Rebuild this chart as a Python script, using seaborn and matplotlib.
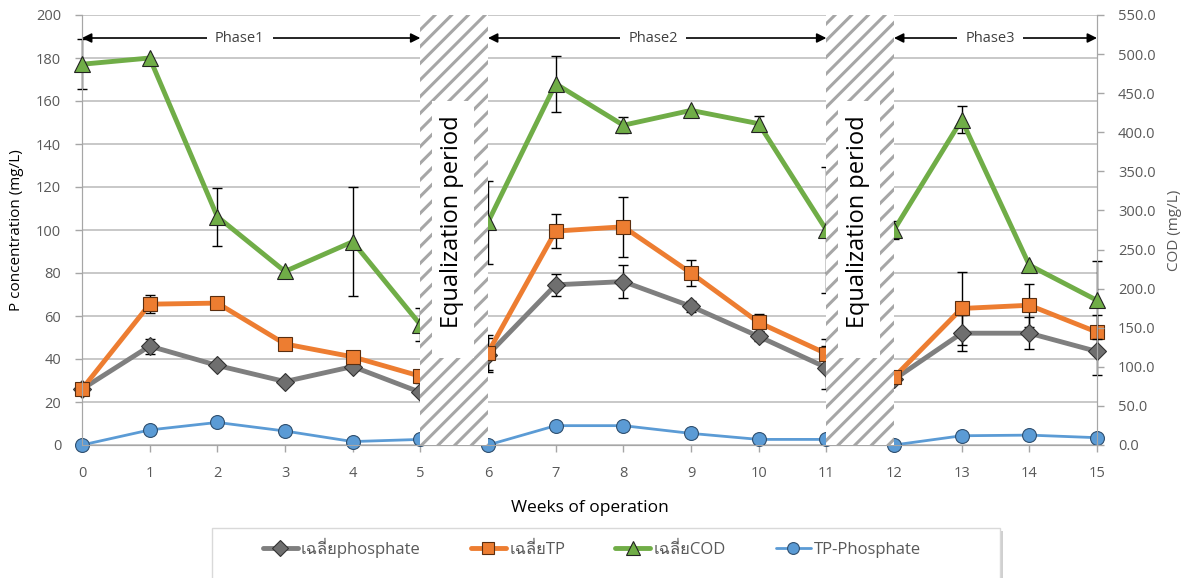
import numpy as np
import matplotlib
matplotlib.use("Agg")
import matplotlib.pyplot as plt
import matplotlib.font_manager as fm
from matplotlib.patches import Rectangle
import seaborn as sns
from fontTools.ttLib import TTFont

#data
weeks = list(range(16))
phosphate = [26, 46, 37, 29.5, 36.5, 24.5, 42, 74.5, 76, 64.5, 50.5, 36, 30.5, 52, 52, 43.5]
phosphate_err = [0, 3.5, 0, 0, 0, 0, 8, 5, 7.5, 2.5, 2, 10, 1, 8.5, 7.5, 11]
tp = [26, 65.5, 66, 47, 41, 32, 43, 99.5, 101.5, 80, 57, 42.5, 31.5, 63.5, 65, 52.5]
tp_err = [0, 4.3, 0, 0, 0, 3, 8, 8, 14, 6, 4, 7, 1, 17, 10, 8]
cod = [487, 495, 292, 222, 260, 154, 285, 462, 409, 428, 411, 275, 275, 416, 230, 185]
cod_err = [32, 0, 37, 5, 70, 21, 53, 36, 10, 0, 10, 80, 12, 17, 0, 50]
tp_phosphate = [0, 7, 10.5, 6.5, 1.6, 2.6, 0, 9, 9, 5.4, 2.6, 2.6, 0, 4.3, 4.6, 3.4]

series_names = ["เฉลี่ยphosphate", "เฉลี่ยTP", "เฉลี่ยCOD", "TP-Phosphate"]
phases = [("Phase1", 0, 5, 2.33), ("Phase2", 6, 11, 8.44), ("Phase3", 12, 15, 13.42)]
equalization = [5, 11]

#---
#fonts: find something that has Thai glyphs
def has_thai(path):
	try:
		f = TTFont(path, fontNumber=0, lazy=True)
		cmap = f.getBestCmap()
		return cmap is not None and 0x0E40 in cmap
	except Exception:
		return False

thai_fonts = []
for fe in fm.fontManager.ttflist:
	if fe.name not in thai_fonts and has_thai(fe.fname):
		thai_fonts.append(fe.name)

sns.set_style("white")
plt.rcParams["font.family"] = ["Open Sans"] + thai_fonts[:1] + ["DejaVu Sans"]
plt.rcParams["hatch.color"] = "#a6a6a6"
plt.rcParams["hatch.linewidth"] = 2.2
#---

grey_txt = "#595959"
fig = plt.figure(figsize=(11.86, 5.78), dpi=100)
ax = fig.add_axes([82/1186, 1 - 445/578, (1097 - 82)/1186, 430/578])
ax2 = ax.twinx()

#left axis series
sns.lineplot(x=weeks, y=tp_phosphate, ax=ax, color="#5b9bd5", lw=2, marker="o", markersize=10,
	markerfacecolor="#5b9bd5", markeredgecolor="#2f4f6f", markeredgewidth=0.8, label=series_names[3], legend=False, clip_on=False, zorder=3)
sns.lineplot(x=weeks, y=phosphate, ax=ax, color="#7f7f7f", lw=3.5, marker="D", markersize=9,
	markerfacecolor="#6f6f6f", markeredgecolor="#333333", markeredgewidth=0.8, label=series_names[0], legend=False, clip_on=False, zorder=4)
sns.lineplot(x=weeks, y=tp, ax=ax, color="#ed7d31", lw=3.5, marker="s", markersize=10,
	markerfacecolor="#ed7d31", markeredgecolor="#5a2e10", markeredgewidth=0.8, label=series_names[1], legend=False, clip_on=False, zorder=5)

for vals, errs in [(phosphate, phosphate_err), (tp, tp_err)]:
	idx = [i for i in weeks if errs[i] > 0]
	ax.errorbar([weeks[i] for i in idx], [vals[i] for i in idx], yerr=[errs[i] for i in idx],
		fmt="none", ecolor="black", elinewidth=1, capsize=3.5, capthick=1, zorder=2, clip_on=False)

#right axis series
sns.lineplot(x=weeks, y=cod, ax=ax2, color="#70ad47", lw=3.5, marker="^", markersize=12,
	markerfacecolor="#70ad47", markeredgecolor="#222222", markeredgewidth=0.8, label=series_names[2], legend=False, clip_on=False, zorder=4)
idx = [i for i in weeks if cod_err[i] > 0]
ax2.errorbar([weeks[i] for i in idx], [cod[i] for i in idx], yerr=[cod_err[i] for i in idx],
	fmt="none", ecolor="black", elinewidth=1, capsize=3.5, capthick=1, zorder=2, clip_on=False)

#axes formatting
ax.set_xlim(0, 15)
ax.set_ylim(0, 200)
ax2.set_ylim(0, 550)
ax.set_xticks(weeks)
ax.set_yticks(range(0, 201, 20))
ax2.set_yticks(np.arange(0, 551, 50))
ax2.set_yticklabels([f"{v:.1f}" for v in np.arange(0, 551, 50)])
ax.grid(axis="y", color="#bfbfbf", lw=1.2)
ax.grid(axis="x", visible=False)
ax2.grid(False)
for a in (ax, ax2):
	for s in a.spines.values():
		s.set_color("#a6a6a6")
	a.spines["top"].set_visible(False)
ax.tick_params(axis="x", colors=grey_txt, labelsize=10.5, length=5, width=1, color="#a6a6a6", direction="out", bottom=True, pad=10)
ax.tick_params(axis="y", colors=grey_txt, labelsize=10.5, length=5, width=1, color="#a6a6a6", direction="out", left=True, pad=10)
ax2.tick_params(axis="y", colors=grey_txt, labelsize=10.5, length=5, width=1, color="#a6a6a6", direction="out", right=True, pad=10)
ax.set_xlabel("Weeks of operation", fontsize=12.5, color="black")
ax.xaxis.set_label_coords(0.5, -(508 - 445)/430)
ax.xaxis.label.set_va("center")
ax.set_ylabel("P concentration (mg/L)", fontsize=11, color="black")
ax.yaxis.set_label_coords((17 - 82)/1015, 0.5)
ax.yaxis.label.set_va("center")
ax2.set_ylabel("COD (mg/L)", fontsize=11, color=grey_txt)
ax2.yaxis.set_label_coords((1175 - 82)/1015, 0.5)
ax2.yaxis.label.set_va("center")

#equalization boxes
for x0 in equalization:
	ax2.axvspan(x0, x0 + 1, facecolor="white", edgecolor="#a6a6a6", hatch="//", lw=0, zorder=6)
	ax2.axvspan(x0 + 0.17, x0 + 0.79, ymin=(445 - 358)/430, ymax=(445 - 101)/430, facecolor="white", lw=0, zorder=7)
	ax2.text(x0 + 0.47, 285, "Equalization period", rotation=90, ha="center", va="center", fontsize=17, color="black", zorder=8)

#phase arrows
for name, start, end, xt in phases:
	ax.annotate("", xy=(start, 189.3), xytext=(end, 189.3),
		arrowprops=dict(arrowstyle="<|-|>", color="black", lw=1.2, shrinkA=0, shrinkB=0, mutation_scale=14), zorder=6)
	ax.text(xt, 189.3, name, ha="center", va="center", fontsize=10.5, color="#404040",
		bbox=dict(facecolor="white", edgecolor="none", pad=6), zorder=7)

#legend frame (wider than its content, like the original)
fig.patches.append(Rectangle((215/1186, -0.05), 788/1186, 0.05 + (578 - 531)/578, transform=fig.transFigure,
	facecolor="#d0d0d0", edgecolor="none", zorder=0))
fig.patches.append(Rectangle((212/1186, -0.05), 788/1186, 0.05 + (578 - 528)/578, transform=fig.transFigure,
	facecolor="white", edgecolor="#d9d9d9", lw=1, zorder=1))

h1, l1 = ax.get_legend_handles_labels()
h2, l2 = ax2.get_legend_handles_labels()
hd = dict(zip(l1 + l2, h1 + h2))
leg = fig.legend([hd[n] for n in series_names], series_names, loc="center", bbox_to_anchor=(592/1186, 1 - 548/578),
	ncol=4, fontsize=12, frameon=False, columnspacing=3.0, handlelength=2.1,
	handletextpad=0.2, borderpad=0, labelcolor=grey_txt, markerscale=0.85)
plt.savefig("out.png", dpi=100)
